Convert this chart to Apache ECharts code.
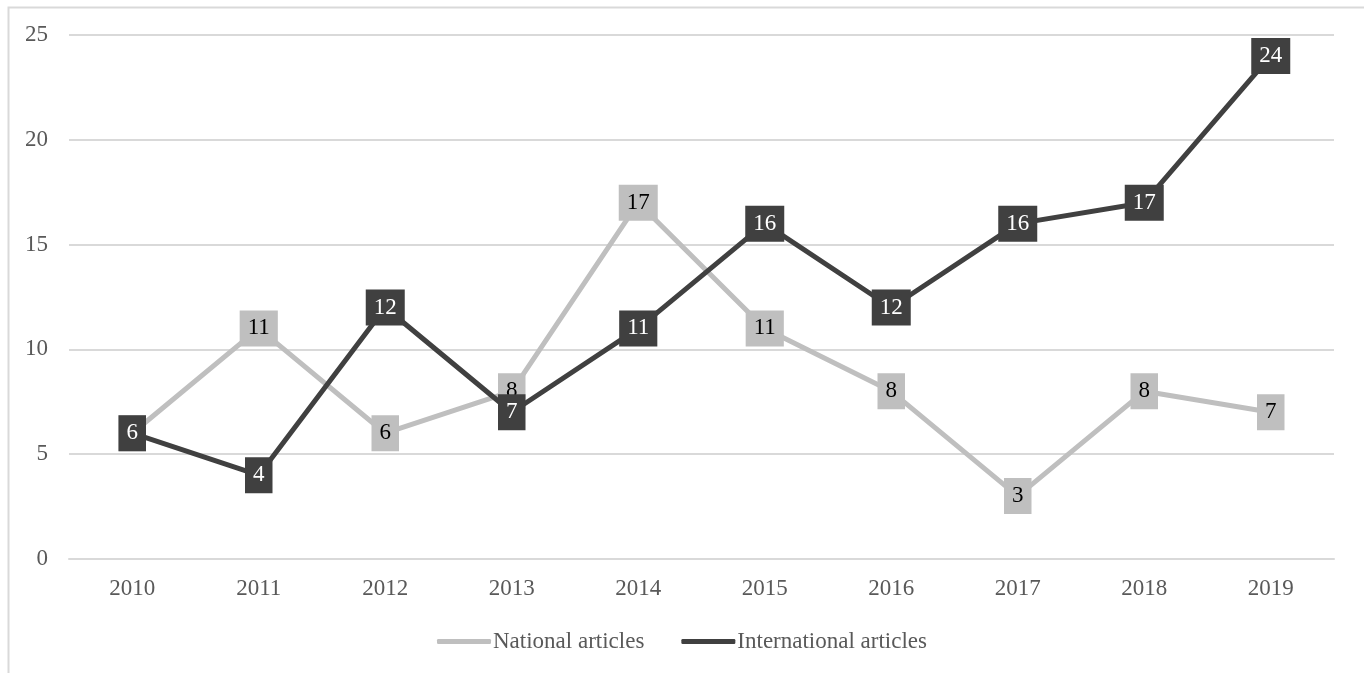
<!DOCTYPE html>
<html>
<head>
<meta charset="utf-8">
<script src="https://cdn.jsdelivr.net/npm/echarts@6/dist/echarts.min.js"></script>
<style>html,body{margin:0;padding:0;background:#fff}#c{width:1364px;height:673px}</style>
</head>
<body>
<div id="c"></div>
<script>
var years = ['2010','2011','2012','2013','2014','2015','2016','2017','2018','2019'];
var nationalArticles = [6, 11, 6, 8, 17, 11, 8, 3, 8, 7];
var internationalArticles = [6, 4, 12, 7, 11, 16, 12, 16, 17, 24];
var yTicks = {min: 0, max: 25, interval: 5};

var font = '"Liberation Serif", "Times New Roman", serif';
var chart = echarts.init(document.getElementById('c'));
function mkLabel(bg, fg) {
  return {
    show: true, position: 'inside', color: fg, backgroundColor: bg,
    fontFamily: font, fontSize: 23, lineHeight: 22, padding: [7, 8]
  };
}
chart.setOption({
  animation: false,
  graphic: [{type: 'rect', left: 6, top: 5, shape: {width: 1357, height: 700},
    style: {fill: 'none', stroke: '#d9d9d9', lineWidth: 2}, silent: true}],
  grid: {left: 69, right: 30, top: 35, bottom: 114},
  legend: {
    top: 625, left: 'center', itemWidth: 54, itemHeight: 5, itemGap: 37,
    icon: 'roundRect',
    textStyle: {fontFamily: font, fontSize: 23, color: '#595959', padding: [0, 0, 0, -3]},
    data: ['National articles', 'International articles']
  },
  xAxis: {
    type: 'category', data: years, boundaryGap: true,
    axisLine: {lineStyle: {color: '#d9d9d9', width: 2}}, axisTick: {show: false},
    axisLabel: {fontFamily: font, fontSize: 23, color: '#595959', margin: 18}
  },
  yAxis: {
    type: 'value', min: yTicks.min, max: yTicks.max, interval: yTicks.interval,
    axisLine: {show: false}, axisTick: {show: false},
    splitLine: {lineStyle: {color: '#d9d9d9', width: 2}},
    axisLabel: {fontFamily: font, fontSize: 23, color: '#595959', margin: 21}
  },
  series: [
    {name: 'National articles', type: 'line', data: nationalArticles, symbol: 'circle', symbolSize: 1,
     lineStyle: {color: '#bfbfbf', width: 5}, itemStyle: {color: '#bfbfbf'},
     label: mkLabel('#bfbfbf', '#000000'), z: 2},
    {name: 'International articles', type: 'line', data: internationalArticles, symbol: 'circle', symbolSize: 1,
     lineStyle: {color: '#404040', width: 5}, itemStyle: {color: '#404040'},
     label: mkLabel('#404040', '#ffffff'), z: 3}
  ]
});
</script>
</body>
</html>
